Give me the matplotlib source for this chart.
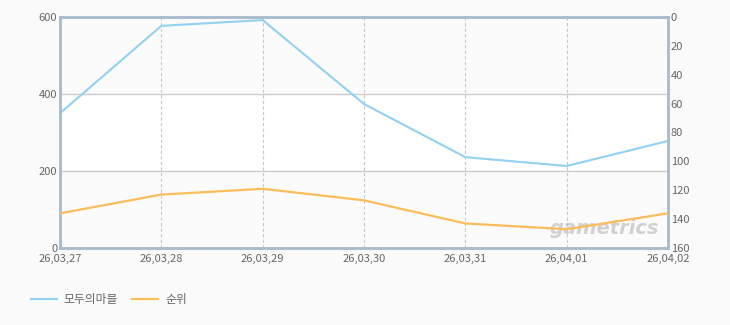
import matplotlib
matplotlib.use("Agg")
import matplotlib.pyplot as plt

plt.rcParams['font.family'] = ['Noto Sans CJK KR', 'DejaVu Sans']

dates = ["26,03,27", "26,03,28", "26,03,29", "26,03,30", "26,03,31", "26,04,01", "26,04,02"]
players = [350, 577, 592, 374, 236, 213, 278]   # 모두의마블 (left axis)
ranks = [136, 123, 119, 127, 143, 147, 136]     # 순위 (right axis, inverted)

blue = "#92d1f0"
orange = "#fbbd5c"
spine_col = "#a9bccf"
txt_col = "#666666"

fig = plt.figure(figsize=(7.3, 3.25), dpi=100)
fig.patch.set_facecolor("#fafafa")
ax = fig.add_axes([60/730, 1 - 248/325, 608/730, 231/325])
ax.set_facecolor("white")

x = list(range(len(dates)))

# alternating bands
for lo, hi in [(0, 200), (400, 600)]:
    ax.axhspan(lo, hi, color="#fbfbfb", zorder=0)

ax.set_xlim(0, len(dates) - 1)
ax.set_ylim(0, 600)
ax.set_yticks([0, 200, 400, 600])
ax.set_xticks(x)
ax.set_xticklabels(dates)
ax.grid(axis="y", color="#cccccc", linewidth=1, linestyle="-", zorder=1)
for xi in x[1:-1]:
    ax.axvline(xi, color="#c8c8c8", linewidth=0.8, linestyle=(0, (3, 2)), zorder=1)

ax.plot(x, players, color=blue, linewidth=1.5, zorder=3, label="모두의마블")

ax2 = ax.twinx()
ax2.set_ylim(160, 0)
ax2.set_yticks(range(0, 161, 20))
ax2.plot(x, ranks, color=orange, linewidth=1.6, zorder=3, label="순위")

for a in (ax, ax2):
    for s in a.spines.values():
        s.set_color(spine_col)
        s.set_linewidth(1.8)
    a.tick_params(length=0, labelsize=8, colors=txt_col, pad=2)
ax.tick_params(axis="x", pad=4)

# watermark
ax.text(0.985, 0.045, "gametrics", transform=ax.transAxes, ha="right", va="bottom",
        fontsize=14, fontstyle="italic", fontweight="bold", color="#a8a8a8",
        alpha=0.5, family="DejaVu Sans", zorder=4)

h1, l1 = ax.get_legend_handles_labels()
h2, l2 = ax2.get_legend_handles_labels()
fig.legend(h1 + h2, l1 + l2, loc="center left", bbox_to_anchor=(20/730, 1 - 300/325),
           frameon=False, ncol=2, fontsize=8.5, handlelength=2.2, handletextpad=0.6,
           columnspacing=1.2, labelcolor=txt_col)

fig.savefig("out.png", dpi=100, facecolor=fig.get_facecolor())
